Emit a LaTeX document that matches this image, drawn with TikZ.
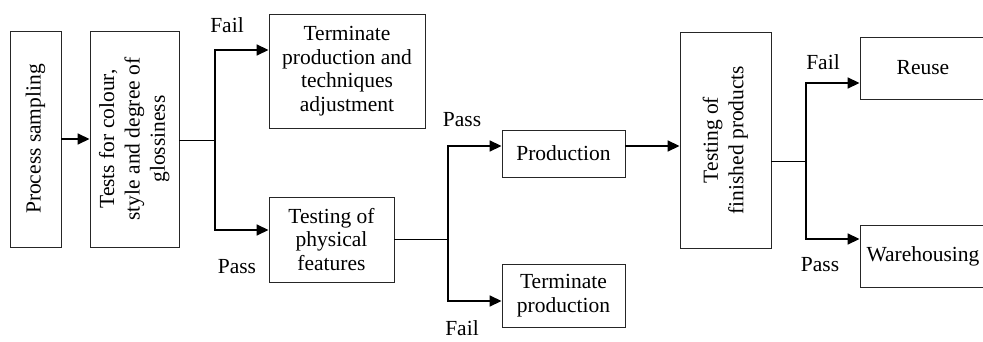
\documentclass[tikz,border=0pt]{standalone}
\usepackage{fontspec}
\setmainfont{Liberation Serif}
\usetikzlibrary{arrows.meta}
\begin{document}
\begin{tikzpicture}[x=1pt,y=-1pt,
  box/.style={draw=black!85, line width=0.9pt, inner sep=0pt, align=center,
    font=\fontsize{21.5}{23.5}\selectfont},
  lbl/.style={font=\fontsize{21.5}{23.5}\selectfont, inner sep=0pt},
  arr/.style={line width=1.6pt, -{Triangle[length=12pt,width=11pt]}},
  thinline/.style={line width=0.9pt}]
\useasboundingbox (0,0) rectangle (983,342);
\clip (0,0) rectangle (983,342);
% boxes
\node[box, minimum width=51pt, minimum height=216pt] (ps) at (35.5,139)
  {\rotatebox{90}{Process sampling}};
\node[box, minimum width=89pt, minimum height=216pt] (tc) at (134.5,139)
  {\rotatebox{90}{\renewcommand{\arraystretch}{1.08}\begin{tabular}{@{}c@{}}Tests for colour,\\ style and degree of\\ glossiness\end{tabular}}};
\node[box, minimum width=156pt, minimum height=114pt] (tp) at (347,71)
  {Terminate\\ production and\\ techniques\\ adjustment};
\node[box, minimum width=125pt, minimum height=85pt] (pf) at (331.5,239.5)
  {Testing of\\ physical\\ features};
\node[box, minimum width=123pt, minimum height=47pt] (pr) at (563.5,153.5)
  {Production};
\node[box, minimum width=123pt, minimum height=63pt] (tr) at (563.5,295.5)
  {Terminate\\ production};
\node[box, minimum width=91pt, minimum height=216pt] (fp) at (725.5,140)
  {\rotatebox{90}{\renewcommand{\arraystretch}{1.08}\begin{tabular}{@{}c@{}}Testing of\\ finished products\end{tabular}}};
\node[box, minimum width=126pt, minimum height=62pt] (ru) at (923,68)
  {Reuse};
\node[box, minimum width=126pt, minimum height=62pt] (wh) at (923,256)
  {Warehousing};
% branch coordinates
\coordinate (b1) at (215,140);
\coordinate (b1u) at (215,50);
\coordinate (b1d) at (215,230);
\coordinate (b2) at (448,239.5);
\coordinate (b2u) at (448,146);
\coordinate (b2d) at (448,301);
\coordinate (pa) at (625,146);
\coordinate (b3) at (806,161);
\coordinate (b3u) at (806,83);
\coordinate (b3d) at (806,239);
% connectors
\draw[arr] (ps.east) -- (tc.west);
\draw[thinline] (tc.east |- b1) -- (b1);
\draw[arr] (b1) |- (tp.west |- b1u);
\draw[arr] (b1) |- (pf.west |- b1d);
\draw[thinline] (pf.east) -- (b2);
\draw[arr] (b2) |- (pr.west |- b2u);
\draw[arr] (b2) |- (tr.west |- b2d);
\draw[arr] (pr.east |- pa) -- (fp.west |- pa);
\draw[thinline] (fp.east |- b3) -- (b3);
\draw[arr] (b3) |- (ru.west |- b3u);
\draw[arr] (b3) |- (wh.west |- b3d);
% labels
\node[lbl] (l1) at (227,25) {Fail};
\node[lbl] (l2) at (237,267) {Pass};
\node[lbl] (l3) at (462,120) {Pass};
\node[lbl] (l4) at (462,328.5) {Fail};
\node[lbl] (l5) at (823,62) {Fail};
\node[lbl] (l6) at (820,265) {Pass};
\end{tikzpicture}
\end{document}
